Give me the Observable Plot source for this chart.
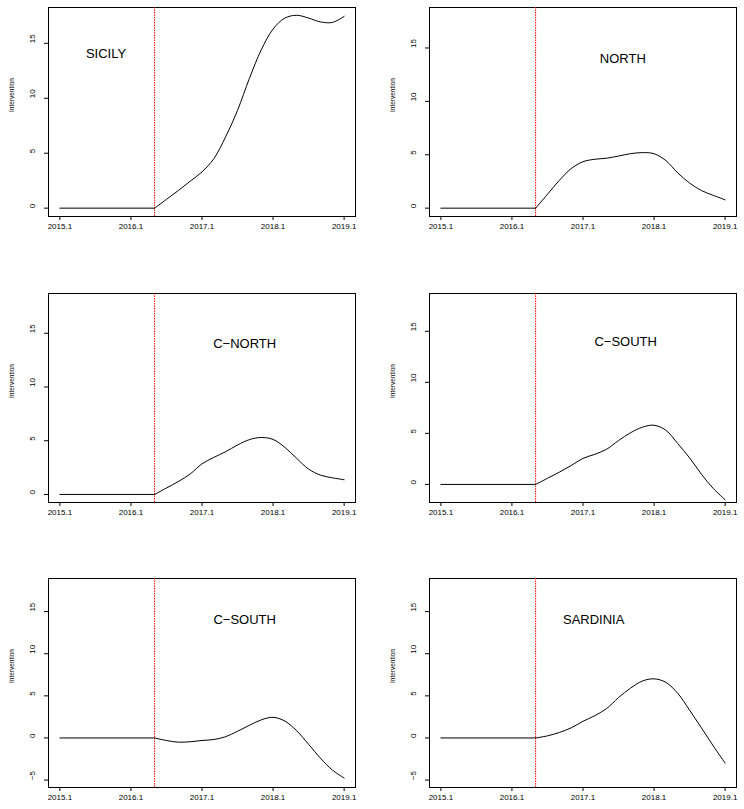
<!DOCTYPE html>
<html>
<head>
<meta charset="utf-8">
<script src="https://cdn.jsdelivr.net/npm/d3@7"></script>
<script src="https://cdn.jsdelivr.net/npm/@observablehq/plot@0.6"></script>
<style>
  body { margin: 0; background: #fff; }
  #wrap { position: relative; width: 744px; height: 809px; overflow: hidden; background: #fff; }
  .panel { position: absolute; }
</style>
</head>
<body>
<div id="wrap"></div>
<script>
// months since Jan 2015 (2015.1)
const months = [0, 16, 18, 20, 22, 24, 26, 28, 30, 32, 34, 36, 38, 40, 42, 44, 46, 48];
const interventionMonth = 16;

const sicily   = [0, 0, 0.8, 1.6, 2.45, 3.3, 4.5, 6.5, 8.9, 11.8, 14.4, 16.3, 17.3, 17.55, 17.3, 16.95, 16.9, 17.45];
const north    = [0, 0, 1.3, 2.6, 3.7, 4.35, 4.58, 4.68, 4.88, 5.1, 5.2, 5.1, 4.45, 3.3, 2.35, 1.65, 1.2, 0.78];
const cNorth   = [0, 0, 0.6, 1.2, 1.9, 2.85, 3.45, 3.98, 4.6, 5.1, 5.3, 5.12, 4.38, 3.35, 2.36, 1.8, 1.55, 1.37];
const cSouthA  = [0, 0, 0.6, 1.2, 1.85, 2.55, 2.95, 3.45, 4.3, 5.05, 5.6, 5.8, 5.3, 4.0, 2.6, 1.0, -0.4, -1.5];
const cSouthB  = [0, 0, -0.3, -0.5, -0.45, -0.3, -0.18, 0.15, 0.8, 1.5, 2.15, 2.45, 2.0, 0.85, -0.75, -2.4, -3.8, -4.76];
const sardinia = [0, 0, 0.25, 0.65, 1.2, 1.98, 2.65, 3.5, 4.8, 5.9, 6.75, 7.02, 6.6, 5.3, 3.3, 1.2, -0.95, -2.98];

const panelNames = ["SICILY", "NORTH", "C\u2212NORTH", "C\u2212SOUTH", "C\u2212SOUTH", "SARDINIA"];
const panelSeries = [sicily, north, cNorth, cSouthA, cSouthB, sardinia];
const nameX = [2015.65, 2017.56, 2017.6, 2017.6, 2017.6, 2017.15];
const nameY = 14;

const xTickPos = [2015, 2016, 2017, 2018, 2019];
const xTickLabels = ["2015.1", "2016.1", "2017.1", "2018.1", "2019.1"];
const yTicksTop = [0, 5, 10, 15];
const yTicksBottom = [-5, 0, 5, 10, 15];
const yDomains = [[-0.76, 18.26], [-0.78, 18.79], [-0.75, 18.7], [-1.77, 18.7], [-5.88, 18.93], [-5.88, 18.93]];
const yLabel = "Intervention";

const font = "'Liberation Sans', Arial, Helvetica, sans-serif";
const wrap = document.getElementById("wrap");

function fmtY(d) { return d < 0 ? "\u2212" + Math.abs(d) : String(d); }

function makePanel(i) {
  const col = i % 2, row = Math.floor(i / 2);
  const vals = panelSeries[i];
  const data = months.map((m, k) => ({x: 2015 + m / 12, y: vals[k], m}));
  const flat = data.filter(d => d.m <= interventionMonth);
  const post = data.filter(d => d.m >= interventionMonth);
  const yTicks = row === 2 ? yTicksBottom : yTicksTop;
  const marginLeft = col === 0 ? 48 : 57;
  const marginRight = col === 0 ? 17 : 8;
  const chart = Plot.plot({
    width: 372,
    height: 238,
    marginTop: 7,
    marginBottom: 22,
    marginLeft,
    marginRight,
    style: {fontFamily: font, fontSize: "8px", background: "white", color: "black", overflow: "visible"},
    x: {domain: [2014.84, 2019.16]},
    y: {domain: yDomains[i]},
    marks: [
      Plot.frame({stroke: "black", strokeWidth: 1}),
      Plot.axisX({ticks: xTickPos, tickSize: 4, tickPadding: 3, tickFormat: d => xTickLabels[xTickPos.indexOf(d)], label: null, fontSize: 8}),
      Plot.axisY({ticks: yTicks, tickSize: 4, tickFormat: () => "", label: null}),
      Plot.text(yTicks, {y: d => d, text: d => fmtY(d), frameAnchor: "left", dx: -16, rotate: -90, fontSize: 8, fill: "black"}),
      Plot.text([yLabel], {text: d => d, frameAnchor: "left", dx: -37, rotate: -90, fontSize: 6.5, fill: "black"}),
      Plot.ruleX([2015 + interventionMonth / 12], {stroke: "red", strokeWidth: 1, strokeDasharray: "1.5,1"}),
      Plot.line(flat, {x: "x", y: "y", stroke: "black", strokeWidth: 1}),
      Plot.line(post, {x: "x", y: "y", stroke: "black", strokeWidth: 1, curve: "catmull-rom"}),
      Plot.text([panelNames[i]], {x: () => nameX[i], y: () => nameY, text: d => d, fontSize: 13, fill: "black"})
    ]
  });
  const div = document.createElement("div");
  div.className = "panel";
  div.style.left = (col * 372) + "px";
  div.style.top = [0, 286, 571][row] + "px";
  div.appendChild(chart);
  wrap.appendChild(div);
}

for (let i = 0; i < 6; i++) makePanel(i);
</script>
</body>
</html>
